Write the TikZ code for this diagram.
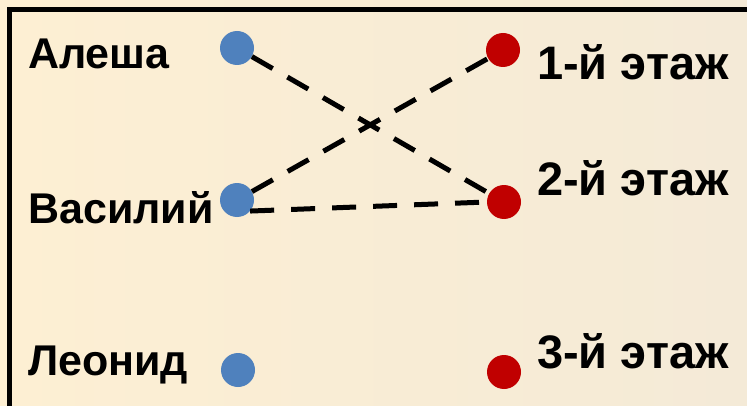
\documentclass[tikz,border=0pt]{standalone}
\usepackage{fontspec}
\setmainfont{Liberation Sans}
\definecolor{bgl}{HTML}{FDEFD3}
\definecolor{bgr}{HTML}{F4EAD7}
\definecolor{dotblue}{HTML}{4F81BD}
\definecolor{dotred}{HTML}{C00000}
\tikzset{
  dotb/.style={circle, fill=dotblue, minimum size=34pt, inner sep=0pt},
  dotr/.style={circle, fill=dotred, minimum size=34pt, inner sep=0pt},
  lname/.style={anchor=base west, inner sep=0pt, font=\fontsize{43}{48}\selectfont\bfseries},
  lfloor/.style={anchor=base west, inner sep=0pt, font=\fontsize{47}{52}\selectfont\bfseries},
  link/.style={line width=5pt, dash pattern=on 24pt off 17pt}
}
\begin{document}
\begin{tikzpicture}[x=1pt,y=1pt]
\useasboundingbox (0,0) rectangle (747,405);
\fill[left color=bgl, right color=bgr] (0,0) rectangle (747,405);
\draw[line width=5pt] (9.5,-5) -- (9.5,395.5) -- (752,395.5);
% labels
\node[lname] (tA) at (28,336) {Алеша};
\node[lname] (tV) at (28,182) {Василий};
\node[lname] (tL) at (28,30) {Леонид};
\node[lfloor] (t1) at (537,325) {1-й этаж};
\node[lfloor] (t2) at (537,210) {2-й этаж};
\node[lfloor] (t3) at (537,37) {3-й этаж};
% dots
\node[dotb] (a) at (237,357) {};
\node[dotb] (v) at (237,205) {};
\node[dotb] (l) at (238,35) {};
\node[dotr] (r1) at (503,355) {};
\node[dotr] (r2) at (504,203) {};
\node[dotr] (r3) at (504,33) {};
% connectors
\draw[link] (a) -- (r2);
\draw[link] (v) -- (r1);
\draw[link] (v.-40) -- (r2.west);
\end{tikzpicture}
\end{document}
